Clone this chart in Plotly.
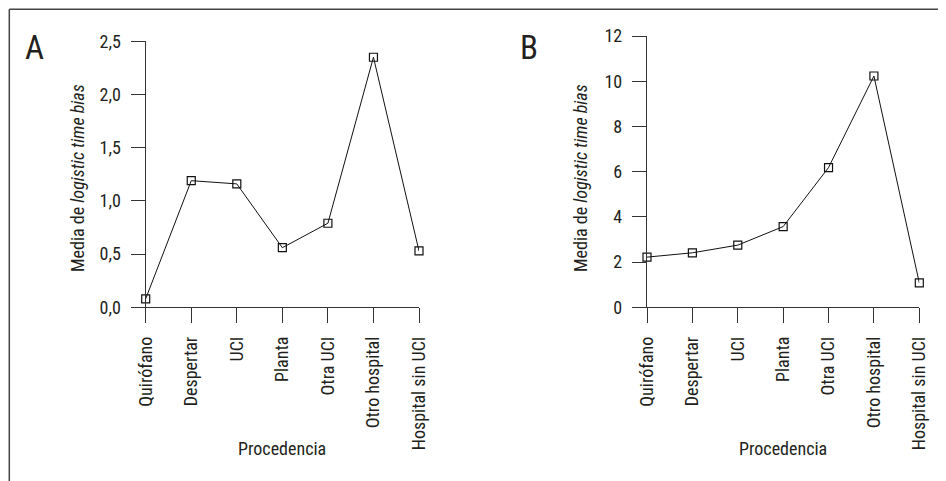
import plotly.graph_objects as go

categories = ["Quirófano", "Despertar", "UCI", "Planta", "Otra UCI", "Otro hospital", "Hospital sin UCI"]
values_a = [0.08, 1.19, 1.16, 0.56, 0.79, 2.35, 0.53]
values_b = [2.22, 2.41, 2.75, 3.57, 6.18, 10.23, 1.08]

ticks_a = [0, 0.5, 1.0, 1.5, 2.0, 2.5]
ticklabels_a = ["0,0", "0,5", "1,0", "1,5", "2,0", "2,5"]
ticks_b = [0, 2, 4, 6, 8, 10, 12]
ticklabels_b = ["0", "2", "4", "6", "8", "10", "12"]

panel_labels = ["A", "B"]
y_title = "Media de <i>logistic time bias</i>"
x_title = "Procedencia"

# page body has an 8px default margin; figure is sized to fit the window exactly
OFF = 8
W, H = 946 - OFF, 481 - OFF
FONT = "Liberation Sans Narrow, Roboto Condensed, DejaVu Sans Condensed, Arial Narrow, sans-serif"
INK = "#231f20"
AX = "#333333"

def fx(px):
    return (px - OFF) / W

def fy(py):
    return 1 - (py - OFF) / H

fig = go.Figure()
idx = list(range(len(categories)))
for vals, xa, ya in [(values_a, "x", "y"), (values_b, "x2", "y2")]:
    fig.add_trace(go.Scatter(
        x=idx, y=vals, xaxis=xa, yaxis=ya, mode="lines+markers",
        line=dict(color="#111111", width=1),
        marker=dict(symbol="square-open", size=8, color="#111111", line=dict(width=1.2, color="#111111")),
        cliponaxis=False, showlegend=False, hoverinfo="skip",
    ))

common_x = dict(
    range=[0, 6], tickmode="array", tickvals=idx, ticktext=categories,
    tickangle=-90, ticks="outside", ticklen=15, tickwidth=1.3, tickcolor=AX,
    showline=True, linecolor=AX, linewidth=1.3, showgrid=False, zeroline=False,
    tickfont=dict(family=FONT, size=18, color=INK), fixedrange=True, automargin=False,
    ticklabelstandoff=6,
)
common_y = dict(
    ticks="outside", ticklen=14, tickwidth=1.3, tickcolor=AX, tickmode="array",
    showline=True, linecolor=AX, linewidth=1.3, showgrid=False, zeroline=False,
    tickfont=dict(family=FONT, size=18, color=INK), fixedrange=True, automargin=False,
    ticklabelstandoff=6,
)

fig.update_layout(
    width=W, height=H, margin=dict(l=0, r=0, t=0, b=0, pad=0, autoexpand=False),
    paper_bgcolor="white", plot_bgcolor="white",
    xaxis=dict(domain=[fx(145.7), fx(419)], anchor="y", **common_x),
    yaxis=dict(domain=[fy(307.3), fy(41.3)], anchor="x", range=[0, 2.5],
               tickvals=ticks_a, ticktext=ticklabels_a, **common_y),
    xaxis2=dict(domain=[fx(647), fx(919.3)], anchor="y2", **common_x),
    yaxis2=dict(domain=[fy(307.3), fy(36)], anchor="x2", range=[0, 12],
                tickvals=ticks_b, ticktext=ticklabels_b, **common_y),
)

annotations = []
for lab, lx, ytx, xtx in [(panel_labels[0], 34, 77, 282), (panel_labels[1], 529, 580, 783)]:
    annotations.append(dict(text=lab, x=fx(lx), y=fy(47), xref="paper", yref="paper",
                            showarrow=False, xanchor="center", yanchor="middle",
                            font=dict(family=FONT, size=33, color=INK)))
    annotations.append(dict(text=y_title, x=fx(ytx), y=fy(178), xref="paper", yref="paper",
                            showarrow=False, textangle=-90, xanchor="center", yanchor="middle",
                            font=dict(family=FONT, size=18, color=INK)))
    annotations.append(dict(text=x_title, x=fx(xtx), y=fy(448), xref="paper", yref="paper",
                            showarrow=False, xanchor="center", yanchor="middle",
                            font=dict(family=FONT, size=18, color=INK)))
fig.update_layout(annotations=annotations)

fig.add_shape(type="line", xref="paper", yref="paper", x0=fx(9.3), x1=1.0, y0=fy(9.3), y1=fy(9.3),
              line=dict(color="#444444", width=1.5))
fig.add_shape(type="line", xref="paper", yref="paper", x0=fx(9.3), x1=fx(9.3), y0=fy(9.3), y1=0,
              line=dict(color="#444444", width=1.5))

fig.write_html("out.html")
